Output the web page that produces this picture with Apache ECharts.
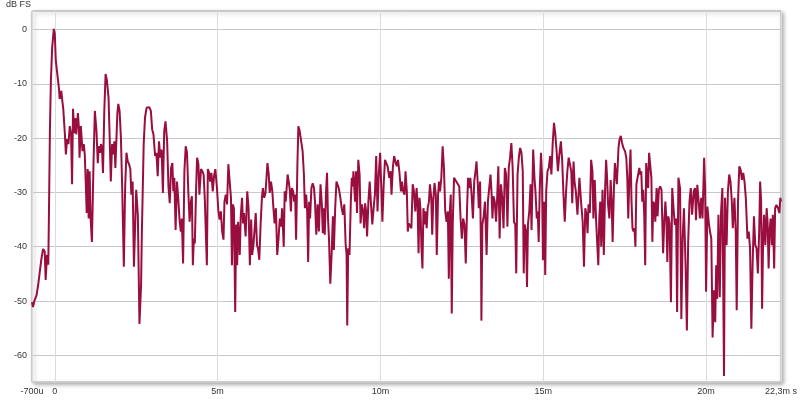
<!DOCTYPE html>
<html>
<head>
<meta charset="utf-8">
<script src="https://cdn.jsdelivr.net/npm/echarts@6/dist/echarts.min.js"></script>
<style>html,body{margin:0;padding:0;background:#fff;}#c{width:800px;height:400px;}</style>
</head>
<body>
<div id="c"></div>
<script>
// time in ms
const timeMs = [
-0.7,-0.67,-0.63,-0.56,-0.51,-0.46,-0.41,-0.36,-0.31,-0.28,-0.24,-0.2,-0.18,-0.15,-0.12,-0.08,-0.03,0,0.03,0.07,0.1,0.13,0.15,0.2,0.23,0.26,0.31,0.34,0.38,0.42,0.46,0.5,0.53,0.56,0.6,0.63,0.66,0.71,0.74,0.76,0.8,0.85,0.89,0.92,0.95,0.98,1.01,1.04,1.07,1.1,1.14,1.19,1.23,1.28,1.32,1.35,1.39,1.42,1.45,1.48,1.52,1.56,1.6,1.65,1.68,1.72,1.76,1.79,1.83,1.86,1.89,1.92,1.95,1.99,2.03,2.07,2.12,2.16,2.2,2.24,2.28,2.32,2.35,2.39,2.43,2.46,2.5,2.55,
2.6,2.65,2.67,2.7,2.73,2.77,2.82,2.9,2.95,2.99,3.03,3.08,3.12,3.16,3.2,3.24,3.28,3.32,3.36,3.4,3.45,3.49,3.53,3.57,3.61,3.64,3.67,3.71,3.75,3.79,3.83,3.87,3.9,3.94,3.98,4.02,4.06,4.1,4.14,4.18,4.21,4.24,4.27,4.3,4.34,4.37,4.41,4.44,4.49,4.53,4.57,4.61,4.64,4.67,4.7,4.74,4.77,4.81,4.85,4.89,4.93,4.98,5.02,5.06,5.1,5.14,5.18,5.21,5.25,5.29,5.33,5.37,5.41,5.44,5.47,5.5,5.54,5.57,5.6,5.63,5.68,5.71,5.75,5.78,
5.81,5.86,5.91,5.95,5.99,6.03,6.06,6.1,6.13,6.17,6.21,6.24,6.28,6.32,6.36,6.39,6.43,6.47,6.5,6.53,6.57,6.6,6.64,6.68,6.71,6.75,6.79,6.83,6.87,6.91,6.95,6.98,7.03,7.06,7.09,7.12,7.15,7.19,7.22,7.25,7.28,7.32,7.35,7.38,7.41,7.45,7.48,7.52,7.56,7.61,7.65,7.68,7.72,7.75,7.78,7.81,7.84,7.88,7.92,7.96,7.99,8.03,8.07,8.11,8.16,8.2,8.23,8.26,8.29,8.33,8.36,8.39,8.42,8.46,8.5,8.54,8.57,8.61,8.65,8.68,8.72,8.77,8.81,8.85,8.89,8.93,8.96,8.98,9.01,9.05,9.09,9.12,9.15,
9.17,9.22,9.25,9.28,9.32,9.36,9.39,9.43,9.47,9.5,9.53,9.56,9.59,9.63,9.67,9.71,9.75,9.8,9.83,9.87,9.91,9.95,9.99,10.03,10.06,10.1,10.14,10.18,10.22,10.27,10.31,10.34,10.38,10.42,10.46,10.5,10.54,10.58,10.63,10.66,10.7,10.74,10.77,10.81,10.84,10.87,10.91,10.95,10.99,11.03,11.07,11.11,11.14,11.17,11.2,11.23,11.26,11.29,11.32,11.36,11.39,11.42,11.45,11.49,11.52,11.56,11.59,11.62,11.66,11.7,11.73,11.77,11.8,11.83,11.87,11.91,11.95,11.99,12.03,12.07,12.1,12.13,12.16,12.19,12.22,12.26,12.3,12.34,12.38,12.42,12.46,12.5,12.54,12.58,
12.62,12.66,12.69,12.73,12.76,12.79,12.84,12.88,12.92,12.95,12.99,13.02,13.06,13.09,13.1,13.13,13.17,13.21,13.26,13.3,13.34,13.38,13.41,13.44,13.47,13.51,13.55,13.58,13.62,13.66,13.7,13.74,13.78,13.82,13.86,13.9,13.94,13.98,14.02,14.06,14.1,14.14,14.17,14.21,14.25,14.29,14.33,14.37,14.4,14.43,14.47,14.5,14.53,14.57,14.61,14.64,14.69,14.73,14.76,14.8,14.83,14.86,14.89,14.93,14.96,14.99,15.03,15.06,15.09,15.13,15.17,15.21,15.25,15.29,15.33,15.37,15.41,15.45,15.49,15.54,15.58,15.62,15.66,15.7,15.74,15.78,15.82,15.86,15.89,15.93,15.96,16.0,16.05,
16.11,16.16,16.21,16.25,16.29,16.33,16.36,16.39,16.43,16.47,16.51,16.54,16.58,16.62,16.65,16.69,16.72,16.75,16.78,16.82,16.86,16.9,16.93,16.96,16.99,17.03,17.07,17.1,17.13,17.17,17.2,17.23,17.26,17.31,17.34,17.38,17.42,17.46,17.51,17.55,17.58,17.61,17.65,17.68,17.71,17.74,17.77,17.8,17.83,17.86,17.91,17.95,17.98,18.01,18.04,18.07,18.1,18.13,18.16,18.19,18.22,18.25,18.29,18.32,18.35,18.38,18.41,18.44,18.48,18.51,18.55,18.59,18.63,18.68,18.72,18.75,18.78,18.81,18.84,18.88,18.92,18.96,19.0,19.04,19.08,19.11,19.15,19.2,19.24,19.28,19.32,
19.37,19.41,19.45,19.49,19.53,19.57,19.62,19.66,19.69,19.73,19.78,19.81,19.85,19.89,19.94,19.97,20.0,20.04,20.08,20.12,20.16,20.2,20.24,20.28,20.31,20.34,20.38,20.42,20.46,20.5,20.55,20.58,20.63,20.67,20.71,20.75,20.79,20.82,20.87,20.91,20.94,20.98,21.02,21.06,21.1,21.14,21.18,21.22,21.27,21.31,21.35,21.39,21.43,21.47,21.51,21.55,21.59,21.63,21.66,21.69,21.72,21.75,21.78,21.82,21.86,21.89,21.92,21.95,21.98,22.02,22.05,22.09,22.12,22.16,22.21,22.25,22.28,22.3
];
// level in dB FS
const levelDb = [
-50.2,-51.1,-50.0,-48.9,-47,-44.6,-42.2,-40.4,-40.9,-46.1,-41.5,-43.3,-34.1,-18.7,-9.4,-3.3,0.1,-0.8,-5.7,-6.0,-9.4,-11,-12.8,-11.3,-13.1,-14.6,-19.3,-23,-20.2,-21.1,-17.8,-19.3,-28.5,-14.6,-19.1,-16.3,-19.3,-15.4,-18.1,-23.6,-17.8,-22.4,-21.1,-23,-28,-33.8,-25.7,-34.8,-26.1,-34.8,-39.1,-24.3,-15,-18.7,-24.6,-21.5,-22.7,-21.1,-21.8,-26.4,-15,-8.2,-9.4,-12.5,-18.7,-28,-21.1,-23,-20.6,-25.5,-20.6,-15.6,-13.7,-15,-19.9,-29.2,-43.7,-29.2,-22.7,-24.3,-24.8,-25.7,-30.4,-28,-43.7,-44,-29.5,-34.1,
-54.2,-47,-38.5,-29.8,-21.1,-16.2,-14.4,-14.3,-15,-18.4,-19.3,-23.3,-22.7,-27,-20.6,-23.6,-22.1,-30.1,-18.7,-16.9,-20.6,-28.9,-32,-25.5,-24.6,-29.8,-27.3,-36.9,-28,-31,-35,-37.2,-34.8,-43.1,-26.1,-21.5,-22.7,-29.8,-35.4,-31.7,-30.7,-43.4,-38.5,-39.4,-29.2,-23.6,-24.8,-30.4,-25.7,-26.1,-26.7,-31.7,-37.8,-43.4,-25.7,-26.4,-28,-26.4,-29.8,-27,-25.7,-29.2,-33.2,-35,-33.5,-37.2,-38.7,-31.7,-30.4,-32.2,-24.8,-28,-31,-43.4,-32.2,-32.9,-52,-35.9,-43.4,-35.4,-41.5,-34.4,-31,-35.7,
-33.8,-38.1,-29.8,-32.9,-43.4,-35,-41.5,-39.7,-37.2,-33.8,-39.7,-40.3,-42.4,-35.9,-31,-29.2,-31,-30.1,-30.4,-24.6,-26.7,-30.1,-28,-29.8,-32.6,-35.7,-32.9,-41.5,-38.5,-34.8,-36.3,-32.9,-40,-29.8,-31.7,-29.2,-26.7,-28.3,-29.8,-33.5,-29.2,-29.8,-31.7,-30.4,-38.7,-24.8,-17.8,-18.7,-19,-22.4,-26.7,-32.9,-30.4,-33.5,-42.8,-31.7,-34.8,-29.2,-28.3,-29.2,-31.7,-37.8,-32.2,-37.2,-28.5,-32.2,-37.5,-32.9,-37.8,-29.8,-26.4,-34.8,-38.5,-46.8,-41.5,-34.4,-40.6,-32.9,-28,-28.3,-29.2,-31,-32.9,-34.1,-32.2,-39.4,-41.5,-54.5,-40.3,-41.5,-31.7,-27.3,-28.9,
-26.1,-31.7,-26.1,-33.8,-24,-26.7,-35.7,-32.2,-33.5,-36.6,-32,-33.5,-38.1,-31.7,-28,-32.2,-35.9,-32.2,-30.4,-23.3,-33.5,-26.7,-22.7,-29.8,-35.4,-28.5,-24,-24.3,-25.2,-27.3,-26.1,-30.4,-25.5,-23.3,-24.3,-25.2,-24,-26.1,-29.8,-28,-29.8,-30.4,-26.1,-29.8,-37.2,-35.7,-35.9,-36.6,-28.5,-29.8,-33.5,-29.2,-32,-41.2,-31,-33.2,-40.3,-44,-32.9,-35.9,-33.5,-36.6,-32.9,-31.7,-28.5,-31,-37.8,-31.7,-28.3,-30.4,-41.5,-30.4,-28,-29.8,-27.3,-21.5,-25.5,-33.5,-35.4,-33.5,-45.9,-33.5,-30.4,-52.3,-35.9,-27.3,-27.7,-28,-28.5,-28.9,-34.8,-38.5,-34.8,-35.9,
-43.1,-32.9,-27.3,-29.2,-27.3,-29.5,-34.8,-28,-26.1,-24.3,-28.5,-32.9,-28,-42.2,-53.6,-35.9,-34.4,-31.7,-41.5,-31.7,-29.2,-26.7,-29.8,-34.8,-30.7,-31.7,-35.4,-31.7,-25.2,-38.5,-28.5,-31,-36.6,-25.5,-26.7,-36.3,-25.5,-23.6,-20.9,-25.5,-35.4,-35.9,-44.9,-26.7,-23.6,-21.8,-22.7,-26.1,-44.9,-35.9,-37.2,-47.4,-35.9,-33.5,-28.5,-36.9,-22.1,-27.3,-29.8,-34.8,-33.5,-39.1,-29.8,-22.7,-26.7,-42.5,-31.7,-45.2,-29.8,-26.1,-25.5,-23.3,-26.7,-20.9,-17.2,-19.3,-22.4,-26.1,-23.3,-20.6,-24,-30.4,-35.4,-29.8,-26.1,-23.6,-23.6,-26.1,-32,-24.3,-28,-29.8,-34.1,
-27.3,-31.7,-35.4,-43.7,-32.9,-34.1,-37.5,-32.2,-33.8,-24,-26.1,-34.8,-27.7,-34.8,-38.5,-43.4,-34.8,-31.7,-40,-29.5,-41.5,-29.2,-24,-27.3,-32.2,-34.8,-27.7,-31.7,-39.1,-29.2,-24.6,-24.3,-28.5,-21.8,-20.3,-19.6,-20.9,-21.8,-22.4,-23.6,-27.3,-34.8,-26.1,-22.1,-31.7,-36.6,-37.2,-36.6,-40,-28.5,-28.3,-25.5,-26.7,-26.1,-31.7,-29.5,-34.1,-43.4,-24.6,-24.3,-29.2,-22.7,-22.7,-27.3,-39.1,-31.7,-32.2,-35.4,-29.2,-34.4,-29.5,-28.9,-29.5,-41.2,-34.8,-31.7,-34.8,-42.8,-34.4,-35.7,-50.2,-29.2,-32.9,-36,-34.8,-52,-27.3,-29.2,-53.3,-38.5,-32.9,
-43.4,-55.4,-39.1,-31.7,-29.2,-34.1,-29.8,-29.2,-35.1,-28.6,-32.3,-34.8,-31,-34.8,-23.6,-29.2,-48.3,-32.6,-35.4,-37.2,-38.5,-56.7,-48,-53.9,-43.4,-49.6,-34.1,-49.3,-33.5,-29.2,-63.8,-31,-39.7,-29.8,-26.7,-28,-31.7,-36.6,-31,-37.2,-51.7,-31.7,-25.2,-25.8,-27.7,-26.4,-28,-31,-38.5,-37.2,-40.3,-55.1,-42.8,-34.4,-39.7,-40.3,-44.9,-37.2,-28,-31.7,-51.4,-39.1,-34.1,-39.7,-32.9,-35.7,-44,-37.2,-34.8,-39.7,-34.1,-44,-32.9,-32.3,-32.9,-33.8,-31,-31.7
];
const xTickValues = [-0.7, 0, 5, 10, 15, 20, 22.3];
const xTickLabels = ['-700u', '0', '5m', '10m', '15m', '20m', '22,3m s'];
const yTickValues = [0, -10, -20, -30, -40, -50, -60];
const yTickLabels = ['0', '-10', '-20', '-30', '-40', '-50', '-60'];
const xRange = [-0.7, 22.3];
const yRange = [-64.9, 3.4];

const seriesData = timeMs.map((t, i) => [t, levelDb[i]]);
const chart = echarts.init(document.getElementById('c'), null, {renderer: 'canvas'});
const font = 'Liberation Sans, Arial, sans-serif';
chart.setOption({
  animation: false,
  backgroundColor: '#ffffff',
  title: {
    text: 'dB FS', left: 6, top: 0, padding: 0,
    textStyle: {fontSize: 9, fontWeight: 'normal', color: '#333', fontFamily: font}
  },
  grid: {
    left: 32, right: 16, top: 11, bottom: 18,
    show: true, backgroundColor: '#ffffff', borderColor: '#a8a8a8', borderWidth: 1,
    shadowColor: 'rgba(0,0,0,0.35)', shadowBlur: 4, shadowOffsetX: 2, shadowOffsetY: 2
  },
  xAxis: {
    type: 'value', min: xRange[0], max: xRange[1],
    axisLine: {show: false}, axisTick: {show: false},
    splitLine: {show: true, lineStyle: {color: '#dcdcdc', width: 1}},
    axisLabel: {
      customValues: xTickValues,
      showMinLabel: true, showMaxLabel: true,
      margin: 5, fontSize: 9, color: '#333', fontFamily: font,
      formatter: v => { const i = xTickValues.findIndex(x => Math.abs(x - v) < 1e-6); return i >= 0 ? xTickLabels[i] : ''; }
    }
  },
  yAxis: {
    type: 'value', min: yRange[0], max: yRange[1],
    axisLine: {show: false}, axisTick: {show: false},
    splitLine: {show: true, lineStyle: {color: '#c8c8c8', width: 1}},
    axisLabel: {
      customValues: yTickValues,
      margin: 5, fontSize: 9, color: '#333', fontFamily: font,
      formatter: v => { const i = yTickValues.findIndex(y => Math.abs(y - v) < 1e-6); return i >= 0 ? yTickLabels[i] : ''; }
    }
  },
  series: [{
    type: 'line', data: seriesData, showSymbol: false, symbol: 'none',
    lineStyle: {color: '#9a0d3f', width: 2}, clip: true
  }]
});
</script>
</body>
</html>
